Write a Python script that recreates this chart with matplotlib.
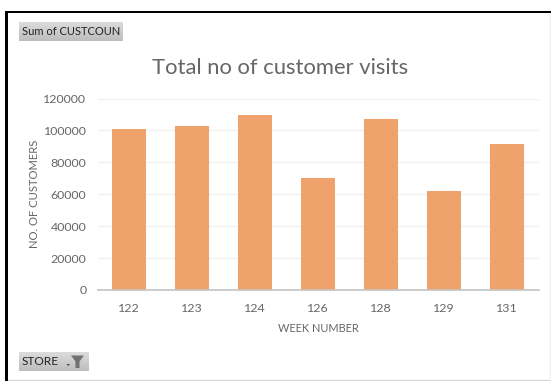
import numpy as np
import matplotlib
matplotlib.use("Agg")
import matplotlib.pyplot as plt
from matplotlib.patches import Polygon, Rectangle

weeks = ["122", "123", "124", "126", "128", "129", "131"]
visits = [101200, 102800, 109900, 70000, 107000, 62000, 91500]
yticks = [0, 20000, 40000, 60000, 80000, 100000, 120000]

W, H = 551, 381
plt.rcParams["font.family"] = ["Lato", "DejaVu Sans"]

fig = plt.figure(figsize=(W / 100, H / 100), dpi=100, facecolor="white")

# overlay in pixel coordinates, y pointing down, for the frame and field buttons
bg = fig.add_axes([0, 0, 1, 1], zorder=0)
bg.set_xlim(0, W)
bg.set_ylim(H, 0)
bg.axis("off")


def button(x, y, w, h, label, size):
    grad = np.linspace(0.86, 0.74, 32).reshape(-1, 1)
    bg.imshow(grad, cmap="gray", vmin=0, vmax=1, extent=(x, x + w, y + h, y),
              aspect="auto", zorder=2)
    bg.text(x + 3, y + h / 2, label, fontsize=size, color="#222222",
            ha="left", va="center", zorder=3)


bg.add_patch(Rectangle((5, 10.5), W, 2.8, fc="black", ec="none", zorder=4))
bg.add_patch(Rectangle((5, 10.5), 3.2, H, fc="black", ec="none", zorder=4))
bg.plot([8, W], [379.5, 379.5], color="#d8d8d8", lw=1, zorder=1)
bg.plot([549.5, 549.5], [13, 380], color="#f0f0f0", lw=1, zorder=1)

button(19, 22, 104, 19, "Sum of CUSTCOUN", 8.0)
button(19, 352, 70, 19, "STORE", 8.6)

# dropdown arrow and filter funnel on the STORE button
bg.add_patch(Polygon([(66.5, 364), (70, 364), (68.2, 366)], fc="#444444", ec="none", zorder=3))
bg.add_patch(Polygon([(71, 355.5), (84, 355.5), (79.5, 361.5), (79.5, 368),
                      (75.5, 368), (75.5, 361.5)], fc="#707070", ec="none", zorder=3))

# chart area
left, right, top, bottom = 97.5, 538.5, 98.5, 290
ax = fig.add_axes([left / W, 1 - bottom / H, (right - left) / W, (bottom - top) / H], zorder=1)
ax.patch.set_alpha(0)
ax.bar(weeks, visits, width=0.555, color="#f0a26c", zorder=2)
ax.set_xlim(-0.5, 6.5)
ax.set_ylim(0, 120000)
ax.set_yticks(yticks)
ax.grid(axis="y", color="#f0f0f0", lw=1, zorder=1)
ax.set_axisbelow(True)
for s in ["top", "right", "left"]:
    ax.spines[s].set_visible(False)
ax.spines["bottom"].set_color("#c4c4c4")
ax.spines["bottom"].set_linewidth(1.2)
ax.tick_params(axis="both", length=0, labelsize=8.9, labelcolor="#666666")
ax.tick_params(axis="x", pad=9.5)
ax.tick_params(axis="y", pad=8)
ax.set_xlabel("WEEK NUMBER", fontsize=7.9, color="#666666", labelpad=6)
ax.set_ylabel("NO. OF CUSTOMERS", fontsize=8.1, color="#666666", labelpad=2.5)

fig.text(280.5 / W, 1 - 68 / H, "Total no of customer visits", fontsize=15.8,
         color="#666666", ha="center", va="center")

fig.savefig("out.png", dpi=100)
